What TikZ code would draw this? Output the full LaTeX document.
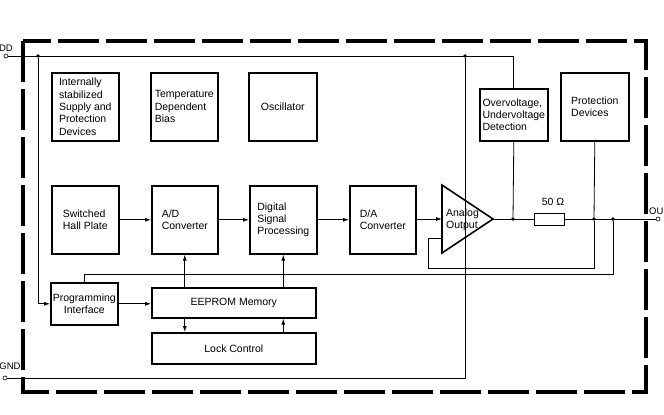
\documentclass[tikz,border=0pt]{standalone}
\usepackage{fontspec}
\setmainfont{Liberation Sans}
\usetikzlibrary{arrows.meta}

\begin{document}
\begin{tikzpicture}[x=1pt, y=-1pt, % 画像のピクセル座標をそのまま使う
  blk/.style={draw, line width=1.6pt, inner sep=0pt, align=left, anchor=north west, font=\fontsize{10.5}{12.4}\selectfont},
  wire/.style={line width=0.8pt},
  sig/.style={wire, -{Latex[length=6pt,width=4pt]}},
  dot/.style={circle, fill, inner sep=0pt, minimum size=3.8pt},
  term/.style={circle, draw, fill=white, inner sep=0pt, minimum size=4pt, line width=0.6pt},
  pin/.style={inner sep=0pt, font=\fontsize{9.5}{11}\selectfont}]
  \useasboundingbox (0,0) rectangle (664,415); % 余白込みの大きさ

  \draw[line width=3.2pt, dash pattern=on 41pt off 7pt] (23,41) rectangle (646,392); % 破線の外枠

  % ブロック
  \node[blk, minimum width=67pt, minimum height=68pt] (supply) at (51,72) {Internally\\stabilized\\Supply and\\Protection\\Devices};
  \node[blk, minimum width=67pt, minimum height=68pt] (tempbias) at (150,72) {Temperature\\Dependent\\Bias};
  \node[blk, minimum width=68pt, minimum height=68pt, align=center] (osc) at (248,72) {Oscillator};
  \node[blk, minimum width=67pt, minimum height=68pt] (hall) at (51,185) {Switched\\Hall Plate};
  \node[blk, minimum width=66pt, minimum height=68pt] (adc) at (151,185) {A/D\\Converter};
  \node[blk, minimum width=67pt, minimum height=68pt] (dsp) at (249,185) {Digital\\Signal\\Processing};
  \node[blk, minimum width=66pt, minimum height=68pt] (dac) at (349,185) {D/A\\Converter};
  \node[blk, minimum width=68pt, minimum height=52pt] (ovuv) at (479,88) {Overvoltage,\\Undervoltage\\Detection};
  \node[blk, minimum width=68pt, minimum height=68pt] (prot) at (560,72) {Protection\\Devices};
  \node[blk, minimum width=67pt, minimum height=42pt, align=center] (prog) at (50,282) {Programming\\Interface};
  \node[blk, minimum width=164pt, minimum height=30pt, align=center] (eeprom) at (151,287) {EEPROM Memory};
  \node[blk, minimum width=164pt, minimum height=31pt, align=center] (lock) at (151,332) {Lock Control};

  % アンプ（三角形）
  \coordinate (ampin) at (442,219);
  \coordinate (ampout) at (493,219);
  \coordinate (fbin) at (442,238);
  \draw[line width=1.6pt, line join=miter] (442,185) -- (ampout) -- (442,253) -- cycle;
  \node[inner sep=0pt, align=left, font=\fontsize{10.5}{12.4}\selectfont] (amp) at (462.5,219.5) {Analog\\Output};

  % 端子
  \node[term] (vdd) at (6,56) {};
  \node[term] (gnd) at (5,378) {};
  \node[term] (out) at (658,219) {};
  \node[pin] (vddlabel) at (6,48.5) {DD};
  \node[pin] (gndlabel) at (10,366.5) {GND};
  \node[pin, anchor=west] (outlabel) at (649,211) {OU};

  % 分岐点
  \node[dot] (j1) at (38,56) {};
  \node[dot] (j2) at (465,56) {};
  \node[dot] (j3) at (513,219) {};
  \node[dot] (j4) at (594,219) {};
  \node[dot] (j5) at (613,219) {};
  \coordinate (fb) at (428,268);
  \coordinate (pl) at (0,274);

  % 電源とGND
  \draw[wire] (vdd) -- (vdd -| ovuv.north) -- (ovuv.north);
  \draw[sig] (j1) |- (prog.west);
  \draw[wire] (gnd) -- (gnd -| j2) -- (j2);

  % 信号の流れ
  \draw[sig] (hall) -- (adc);
  \draw[sig] (adc) -- (dsp);
  \draw[sig] (dsp) -- (dac);
  \draw[sig] (dac.east |- ampin) -- (ampin);
  \draw[wire] (ampout) -- (out);
  \draw[wire] (ovuv.south) -- (j3);
  \draw[wire] (prot.south) -- (j4);
  \draw[wire] (fbin) -| (fb) -- (fb -| j4) -- (j4); % 帰還
  \draw[wire] (prog.north) -- (prog.north |- pl) -- (pl -| j5) -- (j5);

  % EEPROMまわり
  \draw[sig] (prog.east) -- (prog.east -| eeprom.west);
  \draw[sig] (eeprom.north -| adc) -- (adc.south);
  \draw[sig] (eeprom.north -| dsp) -- (dsp.south);
  \draw[sig] (eeprom.south -| adc) -- (lock.north -| adc);
  \draw[sig] (lock.north -| dsp) -- (eeprom.south -| dsp);

  % 抵抗
  \node[draw, wire, fill=white, minimum width=30pt, minimum height=12pt, inner sep=0pt] (res) at (549,219) {};
  \node[inner sep=0pt, font=\fontsize{10.5}{12.4}\selectfont] (reslabel) at (553,202) {50 Ω};
\end{tikzpicture}
\end{document}
